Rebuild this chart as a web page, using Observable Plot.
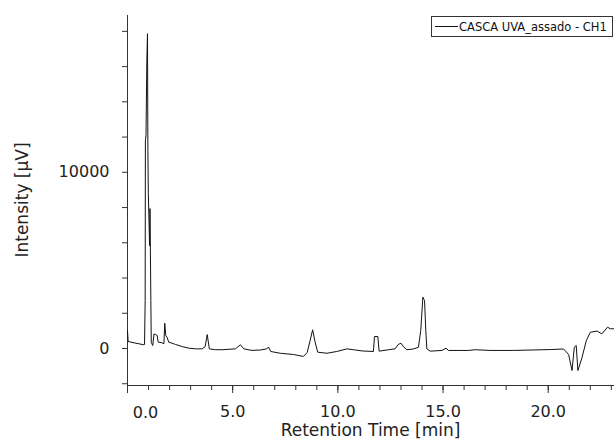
<!DOCTYPE html>
<html>
<head>
<meta charset="utf-8">
<script src="https://cdn.jsdelivr.net/npm/d3@7"></script>
<script src="https://cdn.jsdelivr.net/npm/@observablehq/plot@0.6"></script>
<style>
  html, body { margin: 0; padding: 0; background: #fff; }
  #wrap { position: relative; width: 614px; height: 439px; font-family: "DejaVu Sans", sans-serif; color: #222; }
  #legend { position: absolute; left: 431px; top: 16px; width: 180px; height: 19px; border: 1px solid #333;
            background: #fff; font-size: 11.5px; color: #111; display: flex; align-items: center; white-space: nowrap; }
  #legend .swatch { display: inline-block; width: 23px; border-top: 1px solid #111; margin: 0 1px 0 3px; }
  #xtitle { position: absolute; left: 127px; width: 487px; top: 420px; text-align: center; font-size: 17px; line-height: 20px; }
  #ytitle { position: absolute; left: 22px; top: 200px; font-size: 17px; line-height: 20px; white-space: nowrap;
            transform: translate(-50%, -50%) rotate(-90deg); }
</style>
</head>
<body>
<div id="wrap">
  <div id="legend"><span class="swatch"></span><span id="legendText"></span></div>
  <div id="xtitle"></div>
  <div id="ytitle"></div>
</div>
<script>
const seriesName = "CASCA UVA_assado - CH1";
const xTitle = "Retention Time [min]";
const yTitle = "Intensity [µV]";

// retention time (min)
const times = [0.00, 0.03, 0.36, 0.78, 0.81, 0.84, 0.85, 0.88, 0.92, 0.95, 0.97, 0.99, 1.03, 1.05, 1.07, 1.11, 1.13,
  1.20, 1.26, 1.33, 1.41, 1.46, 1.60, 1.73, 1.77, 1.82, 1.88, 1.96, 2.12, 2.28, 2.60, 2.91, 3.23, 3.55, 3.69, 3.79,
  3.89, 4.18, 4.50, 5.13, 5.37, 5.53, 5.92, 6.32, 6.62, 6.70, 6.81, 7.26, 7.89, 8.36, 8.54, 8.68, 8.80, 8.92, 9.04,
  9.48, 9.95, 10.43, 10.74, 11.16, 11.69, 11.74, 11.90, 11.96, 12.41, 12.72, 12.87, 13.00, 13.11, 13.28, 13.58,
  13.83, 13.94, 14.04, 14.12, 14.18, 14.23, 14.39, 14.95, 15.14, 15.26, 16.21, 16.53, 17.24, 18.35, 20.10, 20.73,
  20.97, 21.13, 21.24, 21.33, 21.41, 21.60, 21.81, 22.00, 22.32, 22.55, 22.82, 22.95, 23.11];
// intensity (µV)
const intensities = [1020, 400, 310, 210, 230, 2720, 11800, 12080, 16340, 17870, 11230, 8790, 6860, 5840, 7940, 2720, 340,
  170, 830, 790, 740, 360, 340, 270, 1435, 740, 640, 360, 300, 230, 110, 20, -20, -20, 110, 790,
  -20, -70, -70, -20, 210, -20, -110, -85, -20, 85, -170, -270, -340, -450, -230, 450, 1060, 360, -210,
  -270, -170, -20, -70, -140, -170, 680, 680, -150, -70, -20, 230, 300, 110, -70, -30,
  70, 1020, 2910, 2720, 1020, -20, -150, -110, 20, -110, -110, -70, -110, -110, -60, -30,
  -340, -1250, 70, 170, -1250, -540, 450, 920, 990, 830, 1210, 1120, 1120];

const xMinorTicks = [0,1,2,3,4,5,6,7,8,9,10,11,12,13,14,15,16,17,18,19,20,21,22,23];
const xMajorTicks = [0, 5, 10, 15, 20];
const yTicks = [-2000, 0, 2000, 4000, 6000, 8000, 10000, 12000, 14000, 16000, 18000];
const yLabelled = [0, 10000];

const data = times.map((t, i) => ({t, v: intensities[i]}));
document.getElementById("legendText").textContent = seriesName;
document.getElementById("xtitle").textContent = xTitle;
document.getElementById("ytitle").textContent = yTitle;

const chart = Plot.plot({
  width: 614,
  height: 439,
  marginLeft: 127,
  marginRight: 0,
  marginTop: 15,
  marginBottom: 54,
  x: {domain: [0, 23.15]},
  y: {domain: [-2100, 18900]},
  style: {fontFamily: "DejaVu Sans, sans-serif", fontSize: "16px", color: "#222", background: "transparent"},
  marks: [
    Plot.axisY({ticks: yTicks, tickSize: 5, tickPadding: 13, stroke: "#333",
      tickFormat: d => yLabelled.includes(d) ? String(d) : "", label: null}),
    Plot.axisX({ticks: xMinorTicks, tickSize: 5, tickFormat: () => "", stroke: "#333", label: null}),
    Plot.axisX({ticks: xMajorTicks, tickSize: 8, stroke: "#333", tickPadding: 12,
      tickFormat: d => d === 0 ? "" : d.toFixed(1), label: null}),
    Plot.text([0], {x: d => d, frameAnchor: "bottom", lineAnchor: "middle", dy: 27, dx: 18,
      text: d => d.toFixed(1), fontSize: 16, fill: "#222"}),
    Plot.ruleX([0], {stroke: "#333"}),
    Plot.ruleY([-2100], {stroke: "#333"}),
    Plot.line(data, {x: "t", y: "v", stroke: "#111", strokeWidth: 1, clip: true})
  ]
});
chart.style.position = "absolute";
chart.style.left = "0";
chart.style.top = "0";
document.getElementById("wrap").prepend(chart);
</script>
</body>
</html>
